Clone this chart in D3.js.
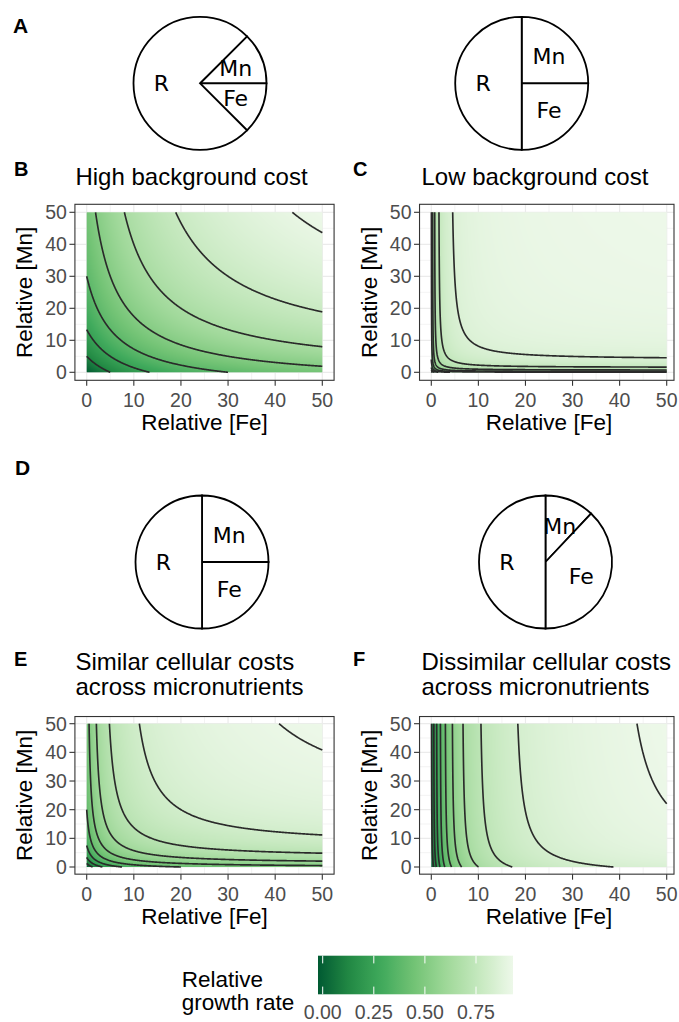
<!DOCTYPE html>
<html><head><meta charset="utf-8">
<script src="https://cdn.jsdelivr.net/npm/d3@7"></script>
<style>body{margin:0;background:#fff} svg{display:block}</style>
</head><body>
<svg id="chart" width="679" height="1022"></svg>
<script>
// ---------------- data ----------------
const panelIds = ["B", "C", "E", "F"];
const panelTitles = [
  ["High background cost"],
  ["Low background cost"],
  ["Similar cellular costs", "across micronutrients"],
  ["Dissimilar cellular costs", "across micronutrients"]
];
// growth model parameters (cost share and half-saturation per nutrient)
const feCost    = [0.5, 0.5, 0.5, 1.0];
const mnCost    = [0.5, 0.5, 0.5, 0.1];
const feHalfSat = [20, 1, 5, 4.3];
const mnHalfSat = [20, 1, 5, 5.8];
const contourLevels = [
  [0.1, 0.2, 0.3, 0.4, 0.5, 0.6, 0.7],
  [0.1, 0.2, 0.3, 0.4, 0.5, 0.6, 0.7, 0.8, 0.9],
  [0.1, 0.2, 0.3, 0.4, 0.5, 0.6, 0.7, 0.8, 0.9],
  [0.0, 0.1, 0.2, 0.3, 0.4, 0.5, 0.6, 0.7, 0.8, 0.9]
];
const axisTicks = [0, 10, 20, 30, 40, 50];
const minorTicks = [5, 15, 25, 35, 45];
const axisDomain = [0, 50];

const pieLabels = ["Mn", "Fe", "R"];
const pieShares = [[12.5, 12.5, 75], [25, 25, 50], [25, 25, 50], [12, 38, 50]];
const pieStartDeg = [45, 0, 0, 0];

const legendTicks = [0, 0.25, 0.5, 0.75];
const legendRange = [-0.023, 0.931];
const greens = ["#005A32", "#238B45", "#41AB5D", "#74C476", "#A1D99B", "#C7E9C0", "#EDF8E9"];

// ---------------- layout ----------------
const colLayout = [{x0: 86.7, x50: 322.3, right: 334.1, letterX: 14, titleDx: 0.5},
                   {x0: 431.3, x50: 666.7, right: 674, letterX: 353, titleDx: 2}];
const rowLayout = [{y0: 372.3, y50: 212.3, letterY: 176, titleY: 185},
                   {y0: 867, y50: 723.7, letterY: 666, titleY: 670}];
const pieLayout = [{cx: 200, cy: 83.3}, {cx: 521.7, cy: 83.3}, {cx: 202, cy: 562}, {cx: 545.5, cy: 562}];
const pieR = 66.5;
const SANS = "'Liberation Sans', Arial, Helvetica, sans-serif";

const svg = d3.select("#chart");
const interp = d3.piecewise(d3.interpolateLab, greens);

function growth(p, fe, mn) {
  return 1 - feCost[p] * feHalfSat[p] / (fe + feHalfSat[p])
           - mnCost[p] * mnHalfSat[p] / (mn + mnHalfSat[p]);
}

function isolines(values, n, level) {
  const c = d3.contours().size([n, n]).thresholds([level])(values)[0];
  const lo = 0.5 - 1e-6, hi = n - 0.5 + 1e-6;
  const inside = q => q[0] >= lo && q[0] <= hi && q[1] >= lo && q[1] <= hi;
  const lines = [];
  for (const poly of c.coordinates) for (const ring of poly) {
    let cur = null;
    for (let k = 1; k < ring.length; k++) {
      const a = ring[k - 1], b = ring[k];
      if (inside(a) && inside(b)) {
        if (!cur) { cur = [a]; lines.push(cur); }
        cur.push(b);
      } else cur = null;
    }
  }
  return lines;
}

// ---------------- panels ----------------
panelIds.forEach((id, p) => {
  const col = colLayout[p % 2], row = rowLayout[Math.floor(p / 2)];
  const x = d3.scaleLinear().domain(axisDomain).range([col.x0, col.x50]);
  const y = d3.scaleLinear().domain(axisDomain).range([row.y0, row.y50]);
  const left = x(-2.5), right = Math.min(x(52.5), col.right), top = y(52.5), bottom = y(-2.5);
  const g = svg.append("g");

  // grid
  minorTicks.forEach(t => {
    g.append("line").attr("x1", x(t)).attr("x2", x(t)).attr("y1", top).attr("y2", bottom)
      .attr("stroke", "#EBEBEB").attr("stroke-width", 0.6);
    g.append("line").attr("y1", y(t)).attr("y2", y(t)).attr("x1", left).attr("x2", right)
      .attr("stroke", "#EBEBEB").attr("stroke-width", 0.6);
  });
  axisTicks.forEach(t => {
    g.append("line").attr("x1", x(t)).attr("x2", x(t)).attr("y1", top).attr("y2", bottom)
      .attr("stroke", "#EBEBEB").attr("stroke-width", 1.2);
    g.append("line").attr("y1", y(t)).attr("y2", y(t)).attr("x1", left).attr("x2", right)
      .attr("stroke", "#EBEBEB").attr("stroke-width", 1.2);
  });

  // values on grid
  const n = 401, step = (axisDomain[1] - axisDomain[0]) / (n - 1);
  const vals = new Float64Array(n * n);
  for (let j = 0; j < n; j++) for (let i = 0; i < n; i++) vals[j * n + i] = growth(p, i * step, j * step);
  const ext = d3.extent(vals);
  const color = d3.scaleSequential(interp).domain(ext);

  // raster
  const x0 = x(axisDomain[0]), x1 = x(axisDomain[1]), yTop = y(axisDomain[1]), yBot = y(axisDomain[0]);
  const pw = Math.round(x1 - x0), ph = Math.round(yBot - yTop);
  const canvas = document.createElement("canvas");
  canvas.width = pw; canvas.height = ph;
  const ctx = canvas.getContext("2d");
  const img = ctx.createImageData(pw, ph);
  for (let py = 0; py < ph; py++) {
    const mn = y.invert(yTop + (py + 0.5) * (yBot - yTop) / ph);
    for (let px = 0; px < pw; px++) {
      const fe = x.invert(x0 + (px + 0.5) * (x1 - x0) / pw);
      const c = d3.rgb(color(growth(p, fe, mn)));
      const k = (py * pw + px) * 4;
      img.data[k] = c.r; img.data[k + 1] = c.g; img.data[k + 2] = c.b; img.data[k + 3] = 255;
    }
  }
  ctx.putImageData(img, 0, 0);
  g.append("image").attr("x", x0).attr("y", yTop).attr("width", x1 - x0).attr("height", yBot - yTop)
    .attr("preserveAspectRatio", "none").attr("href", canvas.toDataURL());

  // contours
  const line = d3.line().x(q => x((q[0] - 0.5) * step)).y(q => y((q[1] - 0.5) * step));
  contourLevels[p].forEach(level => {
    isolines(vals, n, level).forEach(l => {
      g.append("path").attr("d", line(l)).attr("fill", "none")
        .attr("stroke", "#2a2a2a").attr("stroke-width", 1.65)
        .attr("stroke-linejoin", "round");
    });
  });

  // border
  g.append("rect").attr("x", left).attr("y", top).attr("width", right - left).attr("height", bottom - top)
    .attr("fill", "none").attr("stroke", "#333").attr("stroke-width", 1.1);

  // ticks
  axisTicks.forEach(t => {
    g.append("line").attr("x1", x(t)).attr("x2", x(t)).attr("y1", bottom).attr("y2", bottom + 5.5)
      .attr("stroke", "#333").attr("stroke-width", 1.1);
    g.append("text").attr("x", x(t)).attr("y", bottom + 27).attr("text-anchor", "middle")
      .attr("font-family", SANS).attr("font-size", 19.5).attr("fill", "#4D4D4D").text(t);
    g.append("line").attr("y1", y(t)).attr("y2", y(t)).attr("x1", left - 5.5).attr("x2", left)
      .attr("stroke", "#333").attr("stroke-width", 1.1);
    g.append("text").attr("x", left - 8).attr("y", y(t)).attr("dy", "0.36em").attr("text-anchor", "end")
      .attr("font-family", SANS).attr("font-size", 19.5).attr("fill", "#4D4D4D").text(t);
  });

  // axis titles
  g.append("text").attr("x", (x0 + x1) / 2).attr("y", bottom + 49.5).attr("text-anchor", "middle")
    .attr("font-family", SANS).attr("font-size", 22.5).attr("fill", "#000").text("Relative [Fe]");
  g.append("text").attr("transform", `translate(${left - 51},${(yTop + yBot) / 2}) rotate(-90)`)
    .attr("dy", "0.36em").attr("text-anchor", "middle")
    .attr("font-family", SANS).attr("font-size", 22.5).attr("fill", "#000").text("Relative [Mn]");

  // title
  panelTitles[p].forEach((t, k) => {
    g.append("text").attr("x", left + col.titleDx).attr("y", row.titleY + k * 24.5)
      .attr("font-family", SANS).attr("font-size", 24).attr("fill", "#000").text(t);
  });
  // panel letter
  g.append("text").attr("x", col.letterX).attr("y", row.letterY)
    .attr("font-family", SANS).attr("font-weight", "bold").attr("font-size", 20).text(id);
});

// ---------------- pies ----------------
pieLayout.forEach((pos, i) => {
  const start = pieStartDeg[i] * Math.PI / 180;
  const arcs = d3.pie().sort(null).value(d => d).startAngle(start).endAngle(start + 2 * Math.PI)(pieShares[i]);
  const arc = d3.arc().innerRadius(0).outerRadius(pieR);
  const labelArc = d3.arc().innerRadius(pieR * 0.58).outerRadius(pieR * 0.58);
  const g = svg.append("g").attr("transform", `translate(${pos.cx},${pos.cy})`);
  g.selectAll("path").data(arcs).join("path").attr("d", arc)
    .attr("fill", "#fff").attr("stroke", "#000").attr("stroke-width", 1.8);
  g.selectAll("text").data(arcs).join("text")
    .attr("transform", d => `translate(${labelArc.centroid(d)})`)
    .attr("text-anchor", "middle").attr("dy", "0.36em")
    .attr("font-family", "'DejaVu Sans', sans-serif").attr("font-size", 22)
    .text((d, k) => pieLabels[k]);
});
svg.append("text").attr("x", 13).attr("y", 33).attr("font-family", SANS).attr("font-weight", "bold")
  .attr("font-size", 21).text("A");
svg.append("text").attr("x", 15).attr("y", 475).attr("font-family", SANS).attr("font-weight", "bold")
  .attr("font-size", 21).text("D");

// ---------------- legend ----------------
const lx = d3.scaleLinear().domain(legendRange).range([318, 513]);
const barTop = 955.7, barBot = 994.3;
const defs = svg.append("defs");
const grad = defs.append("linearGradient").attr("id", "lg").attr("x1", "0%").attr("x2", "100%");
d3.range(0, 1.0001, 0.05).forEach(t => grad.append("stop").attr("offset", (t * 100) + "%").attr("stop-color", interp(t)));
svg.append("rect").attr("x", lx(legendRange[0])).attr("y", barTop)
  .attr("width", lx(legendRange[1]) - lx(legendRange[0])).attr("height", barBot - barTop).attr("fill", "url(#lg)");
legendTicks.forEach(t => {
  svg.append("line").attr("x1", lx(t)).attr("x2", lx(t)).attr("y1", barTop).attr("y2", barTop + 7.7)
    .attr("stroke", "#fff").attr("stroke-width", 1);
  svg.append("line").attr("x1", lx(t)).attr("x2", lx(t)).attr("y1", barBot - 7.7).attr("y2", barBot)
    .attr("stroke", "#fff").attr("stroke-width", 1);
  svg.append("text").attr("x", lx(t)).attr("y", 1019).attr("text-anchor", "middle")
    .attr("font-family", SANS).attr("font-size", 19.5).attr("fill", "#4D4D4D").text(t.toFixed(2));
});
svg.append("text").attr("x", 181.7).attr("y", 986.7).attr("font-family", SANS).attr("font-size", 22.5).text("Relative");
svg.append("text").attr("x", 181.7).attr("y", 1010).attr("font-family", SANS).attr("font-size", 22.5).text("growth rate");
</script>
</body></html>
